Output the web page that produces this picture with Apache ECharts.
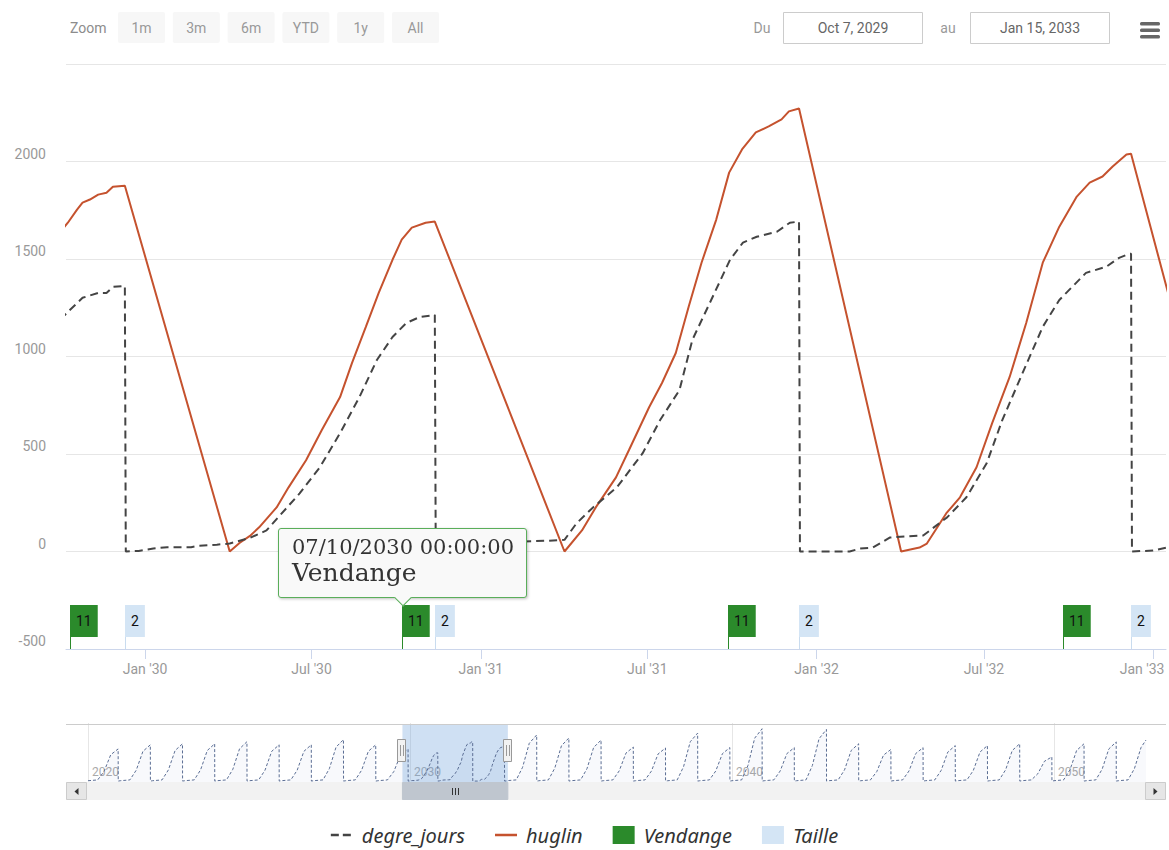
<!DOCTYPE html>
<html><head><meta charset="utf-8"><title>degre_jours / huglin</title>
<script src="https://cdn.jsdelivr.net/npm/echarts@6.0.0/dist/echarts.min.js"></script>
<style>html,body{margin:0;padding:0;background:#fff;}#chart{width:1169px;height:850px;}</style>
</head><body><div id="chart"></div>
<script>
// ---------------- data ----------------
const viewRange = ['2029-10-07', '2033-01-15'];
const xTicks = ['2030-01-01','2030-07-01','2031-01-01','2031-07-01','2032-01-01','2032-07-01','2033-01-01'];
const navTicks = ['2020-01-01','2030-01-01','2040-01-01','2050-01-01'];
const rangeButtons = ['1m','3m','6m','YTD','1y','All'];
const monthNames = ['Jan','Feb','Mar','Apr','May','Jun','Jul','Aug','Sep','Oct','Nov','Dec'];

const degreDates = ['2029-10-01','2029-10-09','2029-10-25','2029-11-11','2029-11-20','2029-11-27','2029-12-10','2029-12-11','2029-12-25',
  '2030-01-10','2030-01-25','2030-02-20','2030-03-01','2030-03-20','2030-04-03','2030-04-25','2030-05-13','2030-06-18','2030-07-10',
  '2030-08-01','2030-08-22','2030-09-10','2030-09-27','2030-10-12','2030-10-27','2030-11-12','2030-11-13','2030-12-01',
  '2031-01-01','2031-02-01','2031-03-15','2031-04-02','2031-04-15','2031-05-03','2031-05-29','2031-06-26','2031-07-15','2031-08-05',
  '2031-08-19','2031-09-07','2031-09-29','2031-10-13','2031-10-28','2031-11-19','2031-12-03','2031-12-13','2031-12-14',
  '2032-02-06','2032-02-17','2032-03-02','2032-03-21','2032-04-26','2032-05-22','2032-06-12','2032-07-04','2032-07-21','2032-08-12',
  '2032-09-03','2032-09-21','2032-10-05','2032-10-20','2032-11-11','2032-11-25','2032-12-06','2032-12-08','2032-12-09',
  '2033-01-01','2033-01-16','2033-01-25'];
const degreValues = [1190,1229,1301,1326,1326,1357,1362,0,3,
  15,22,22,30,35,41,70,108,298,432,
  607,792,982,1100,1172,1203,1213,0,10,
  40,50,55,60,144,226,329,504,674,828,
  1085,1275,1496,1584,1614,1640,1686,1692,0,
  0,15,20,72,82,175,278,452,674,915,
  1152,1290,1357,1429,1460,1506,1527,1527,0,
  5,20,25];

const huglinDates = ['2029-10-01','2029-10-09','2029-10-19','2029-10-25','2029-11-02','2029-11-11','2029-11-20','2029-11-27','2029-12-10',
  '2030-04-03','2030-04-14','2030-04-25','2030-05-05','2030-05-24','2030-06-06','2030-06-25','2030-07-12','2030-08-01','2030-08-14',
  '2030-08-29','2030-09-12','2030-09-27','2030-10-07','2030-10-18','2030-11-02','2030-11-12',
  '2031-04-02','2031-04-21','2031-05-06','2031-05-28','2031-06-11','2031-07-03','2031-07-17','2031-08-01','2031-08-15','2031-08-29',
  '2031-09-14','2031-09-28','2031-10-12','2031-10-27','2031-11-10','2031-11-24','2031-12-02','2031-12-13',
  '2032-04-02','2032-04-22','2032-04-30','2032-05-21','2032-06-05','2032-06-23','2032-07-10','2032-07-29','2032-08-16','2032-09-03',
  '2032-09-21','2032-10-10','2032-10-24','2032-11-07','2032-11-18','2032-12-03','2032-12-08','2033-04-02'];
const huglinValues = [1640,1686,1753,1789,1805,1830,1840,1871,1876,
  0,45,80,124,226,329,468,622,792,967,
  1152,1326,1496,1599,1661,1686,1692,
  0,108,226,380,519,740,864,1018,1255,1481,
  1702,1943,2062,2149,2180,2216,2257,2272,
  0,20,41,195,278,432,658,895,1172,1481,
  1666,1820,1892,1923,1974,2036,2040,0];

const vendangeDates = ['2029-10-11','2030-10-07','2031-09-27','2032-09-25'];
const vendangeTitles = ['11','11','11','11'];
const tailleDates = ['2029-12-10','2030-11-12','2031-12-13','2032-12-08'];
const tailleTitles = ['2','2','2','2'];

// navigator: whole record of degre_jours, read coarsely (Jul 1, Sep 15, peak at pruning) outside the detailed window
const navYears = [2020,2021,2022,2023,2024,2025,2026,2027,2028,2029,2030,2031,2032,2033,2034,2035,2036,
  2037,2038,2039,2040,2041,2042,2043,2044,2045,2046,2047,2048,2049,2050,2051,2052];
const navJul  = [414,467,480,480,507,467,467,534,467,408,364,508,458,594,555,528,438,
  426,618,431,674,431,665,481,407,431,457,457,481,311,481,505,529];
const navSep  = [1132,1277,1312,1312,1386,1277,1277,1460,1277,1117,995,1387,1252,1624,1517,1443,1197,
  1164,1689,1178,1843,1178,1817,1314,1113,1178,1248,1248,1314,850,1314,1379,1445];
const navPeaks = [1380,1557,1600,1600,1690,1557,1557,1780,1557,1362,1213,1692,1527,1980,1850,1760,1460,
  1420,2060,1437,2247,1437,2216,1602,1357,1437,1522,1522,1602,1037,1602,1682,1762];
const navWinterLow = 15, navSpringLow = 50;
const navEndDate = '2052-11-10';

// ---------------- helpers ----------------
const FONT = "Roboto, 'Open Sans', sans-serif";
const ms = s => echarts.time.parse(s).getTime();
const Y_MIN = -500;
const pair = (d, v) => d.map((x, i) => [ms(x), v[i]]);
function fmtTick(v) {
  const d = new Date(v);
  return monthNames[d.getMonth()] + " '" + String(d.getFullYear()).slice(2);
}
function fmtInput(s) {
  const d = new Date(ms(s));
  return monthNames[d.getMonth()] + ' ' + d.getDate() + ', ' + d.getFullYear();
}

const degreData = pair(degreDates, degreValues);
const huglinData = pair(huglinDates, huglinValues);

const detStart = degreData[0][0], detEnd = degreData[degreData.length - 1][0];
let navData = [];
navYears.forEach((y, i) => {
  const last = i === navYears.length - 1;
  const pts = [[y + '-01-01', navWinterLow], [y + '-04-20', navSpringLow], [y + '-07-01', navJul[i]], [y + '-09-15', navSep[i]]];
  if (last) pts.push([navEndDate, navPeaks[i]]);
  else { pts.push([y + '-12-08', navPeaks[i]]); pts.push([y + '-12-09', 0]); }
  pts.forEach(p => { const t = ms(p[0]); if (t < detStart || t > detEnd) navData.push([t, p[1]]); });
});
degreData.forEach(p => navData.push([p[0], p[1]]));
navData.sort((a, b) => a[0] - b[0]);

function flagRender(titles, fill, stem) {
  return function (params, api) {
    const p = api.coord([api.value(0), api.value(1)]);
    const x = Math.round(p[0]) + 0.5, y = p[1];
    return {
      type: 'group',
      children: [
        { type: 'line', shape: { x1: x, y1: y, x2: x, y2: y - 12 }, style: { stroke: stem, lineWidth: 1 } },
        { type: 'text', x: x - 0.5, y: y - 12,
          style: { text: titles[params.dataIndex], fill: '#111', font: '14px ' + FONT, align: 'left',
                   verticalAlign: 'bottom', backgroundColor: fill, padding: [8, 6, 8, 6], lineHeight: 16 } }
      ]
    };
  };
}

// legend icons (line / dashed line drawn as thin filled shapes inside a 22x18 box)
const ICON_BOX = 'M0,0h.01v.01h-.01zM21.99,17.99h.01v.01h-.01z';
const iconDash = 'path://' + ICON_BOX + 'M0,7.75h8v2.5h-8zM12,7.75h8v2.5h-8z';
const iconLine = 'path://' + ICON_BOX + 'M0,7.75h22v2.5h-22z';

// ---------------- chart ----------------
const chart = echarts.init(document.getElementById('chart'), null, { renderer: 'svg' });
const xTickVals = xTicks.map(ms);
const navTickVals = navTicks.map(ms);
const option = {
  animation: false,
  textStyle: { fontFamily: FONT },
  grid: [
    { left: 66, right: 3, top: 64, height: 585 },
    { left: 88, right: 23, top: 724, height: 58 }
  ],
  xAxis: [
    { type: 'value', gridIndex: 0, min: ms(viewRange[0]), max: ms(viewRange[1]), scale: true,
      axisLine: { show: true, onZero: false, lineStyle: { color: '#ccd6eb', width: 1 } },
      axisTick: { show: true, customValues: xTickVals, length: 10, lineStyle: { color: '#ccd6eb' } },
      axisLabel: { customValues: xTickVals, color: '#999', fontSize: 14, margin: 13, fontFamily: FONT,
        showMinLabel: true, showMaxLabel: true,
        formatter: v => (v >= xTickVals[xTickVals.length - 1] ? '{e|' + fmtTick(v) + '}' : fmtTick(v)),
        rich: { e: { color: '#999', fontSize: 14, fontFamily: FONT, padding: [0, 22, 0, 0] } } },
      splitLine: { show: false } },
    { type: 'value', gridIndex: 1, min: navData[0][0], max: navData[navData.length - 1][0], scale: true,
      axisLine: { show: false },
      axisTick: { show: true, inside: true, length: 58, customValues: navTickVals, lineStyle: { color: '#e6e6e6' } },
      axisLabel: { show: true, inside: true, customValues: navTickVals, color: '#aaa', fontSize: 12, align: 'left',
        showMinLabel: true, padding: [0, 0, 0, 4], margin: 4, formatter: v => String(new Date(v).getFullYear()) },
      splitLine: { show: false } }
  ],
  yAxis: [
    { type: 'value', gridIndex: 0, min: Y_MIN, max: 2500, interval: 500,
      axisLine: { show: false }, axisTick: { show: false },
      axisLabel: { color: '#999', fontSize: 14, margin: 20, verticalAlign: 'bottom', padding: [0, 0, 1, 0],
        formatter: v => (v === 2500 ? '' : String(v)) },
      splitLine: { show: true, lineStyle: { color: '#e6e6e6', width: 1 } } },
    { type: 'value', gridIndex: 1, min: -40, max: 2450, show: false, splitLine: { show: false } }
  ],
  legend: {
    top: 820, left: 'center', itemGap: 30, itemWidth: 22, itemHeight: 18, selectedMode: false,
    textStyle: { fontFamily: "'Noto Sans', sans-serif", fontStyle: 'italic', fontSize: 20, color: '#333', padding: [0, 0, 0, 4] },
    data: [{ name: 'degre_jours', icon: iconDash }, { name: 'huglin', icon: iconLine },
           { name: 'Vendange', icon: 'rect' }, { name: 'Taille', icon: 'rect' }]
  },
  tooltip: {
    trigger: 'item', triggerOn: 'none', alwaysShowContent: true, showDelay: 0, hideDelay: 0, transitionDuration: 0,
    backgroundColor: '#f9f9f9', borderColor: '#5aae5a', borderWidth: 1.5, padding: [7, 12, 10, 13],
    extraCssText: 'box-shadow:1px 1px 3px rgba(0,0,0,0.25);border-radius:3px;',
    position: function (point, params, dom, rect, size) {
      const w = size.contentSize[0], h = size.contentSize[1];
      return [rect.x - w / 2, rect.y - h - 7];
    },
    formatter: function (p) {
      const t = echarts.time.format(p.value[0], '{dd}/{MM}/{yyyy} {HH}:{mm}:{ss}', false);
      return '<div style="font-family:\'DejaVu Serif\',serif;font-size:21px;line-height:23px;color:#333">' + t + '</div>' +
        '<div style="font-family:\'DejaVu Serif\',serif;font-size:25px;line-height:28px;color:#333">' + p.seriesName + '</div>' +
        '<div style="position:absolute;left:50%;bottom:-7px;margin-left:-6px;width:11px;height:11px;background:#f9f9f9;' +
        'border-right:1.5px solid #5aae5a;border-bottom:1.5px solid #5aae5a;transform:rotate(45deg)"></div>';
    }
  },
  series: [
    { name: 'degre_jours', type: 'line', xAxisIndex: 0, yAxisIndex: 0, data: degreData, symbol: 'none', silent: true,
      tooltip: { show: false }, color: '#444444', lineStyle: { color: '#444444', width: 2, type: [8, 5] }, z: 3 },
    { name: 'huglin', type: 'line', xAxisIndex: 0, yAxisIndex: 0, data: huglinData, symbol: 'none', silent: true,
      tooltip: { show: false }, color: '#c5522e', lineStyle: { color: '#c5522e', width: 2 }, z: 2 },
    { name: 'Vendange', type: 'custom', xAxisIndex: 0, yAxisIndex: 0, encode: { x: 0, y: 1 },
      data: vendangeDates.map(d => [ms(d), Y_MIN]), itemStyle: { color: '#2b8a2b' },
      renderItem: flagRender(vendangeTitles, '#2b8a2b', '#2b8a2b'), z: 4 },
    { name: 'Taille', type: 'custom', xAxisIndex: 0, yAxisIndex: 0, encode: { x: 0, y: 1 },
      data: tailleDates.map(d => [ms(d), Y_MIN]), itemStyle: { color: '#d4e5f5' },
      renderItem: flagRender(tailleTitles, '#d4e5f5', '#c9dcef'), z: 4 },
    { name: 'nav', type: 'line', xAxisIndex: 1, yAxisIndex: 1, data: navData, symbol: 'none', silent: true,
      tooltip: { show: false }, lineStyle: { color: '#5b6e94', width: 1, type: [3, 2] },
      areaStyle: { color: 'rgba(51,92,173,0.05)', origin: 'start' },
      markArea: { silent: true, itemStyle: { color: 'rgba(110,160,220,0.33)' },
        data: [[{ xAxis: ms(viewRange[0]) }, { xAxis: ms(viewRange[1]) }]] } }
  ]
};
chart.setOption(option);

// ---------------- toolbar, navigator handles, scrollbar ----------------
const xs = chart.convertToPixel({ xAxisIndex: 1 }, ms(viewRange[0]));
const xe = chart.convertToPixel({ xAxisIndex: 1 }, ms(viewRange[1]));
const els = [];
const txt = (x, y, text, opt) => ({ type: 'text', x: x, y: y, z: 11, silent: true,
  style: Object.assign({ text: text, fill: '#999', font: '14px ' + FONT, align: 'center', verticalAlign: 'middle' }, opt || {}) });
els.push(txt(70, 28, 'Zoom', { align: 'left', fill: '#8c8c8c' }));
rangeButtons.forEach((b, i) => {
  const bx = 118 + i * 54.8;
  els.push({ type: 'rect', z: 10, silent: true, shape: { x: bx, y: 12, width: 47, height: 31, r: 2 }, style: { fill: '#f7f7f7' } });
  els.push(txt(bx + 23.5, 28, b));
});
els.push(txt(762, 28, 'Du'));
els.push({ type: 'rect', z: 10, silent: true, shape: { x: 783.5, y: 12.5, width: 139, height: 31 }, style: { fill: '#fff', stroke: '#ccc', lineWidth: 1 } });
els.push(txt(853, 28, fmtInput(viewRange[0]), { fill: '#666' }));
els.push(txt(948, 28, 'au'));
els.push({ type: 'rect', z: 10, silent: true, shape: { x: 970.5, y: 12.5, width: 139, height: 31 }, style: { fill: '#fff', stroke: '#ccc', lineWidth: 1 } });
els.push(txt(1040, 28, fmtInput(viewRange[1]), { fill: '#666' }));
[22, 28.5, 35].forEach(y => els.push({ type: 'rect', z: 10, silent: true, shape: { x: 1140, y: y, width: 20, height: 3.5, r: 1.5 }, style: { fill: '#666' } }));
els.push({ type: 'line', z: 10, silent: true, shape: { x1: 66, y1: 724.5, x2: 1166, y2: 724.5 }, style: { stroke: '#ccc', lineWidth: 1 } });
els.push({ type: 'rect', z: 10, silent: true, shape: { x: 66, y: 782, width: 1100, height: 18 }, style: { fill: '#f2f2f2' } });
els.push({ type: 'rect', z: 11, silent: true, shape: { x: 66.5, y: 782.5, width: 20, height: 17 }, style: { fill: '#e6e6e6', stroke: '#ccc' } });
els.push({ type: 'polygon', z: 12, silent: true, shape: { points: [[78.5, 788], [78.5, 795], [74.5, 791.5]] }, style: { fill: '#333' } });
els.push({ type: 'rect', z: 11, silent: true, shape: { x: 1145.5, y: 782.5, width: 20, height: 17 }, style: { fill: '#e6e6e6', stroke: '#ccc' } });
els.push({ type: 'polygon', z: 12, silent: true, shape: { points: [[1153.5, 788], [1153.5, 795], [1157.5, 791.5]] }, style: { fill: '#333' } });
els.push({ type: 'rect', z: 11, silent: true, shape: { x: xs, y: 782.5, width: xe - xs, height: 17 }, style: { fill: '#bfc6cf', stroke: '#bfc6cf' } });
const cx = Math.round((xs + xe) / 2);
[-3, 0, 3].forEach(d => els.push({ type: 'line', z: 12, silent: true, shape: { x1: cx + d + 0.5, y1: 788, x2: cx + d + 0.5, y2: 795 }, style: { stroke: '#333', lineWidth: 1 } }));
[xs, xe].forEach(hx => {
  const h = Math.round(hx);
  els.push({ type: 'rect', z: 12, silent: true, shape: { x: h - 4.5, y: 739.5, width: 8, height: 22 }, style: { fill: '#f2f2f2', stroke: '#999', lineWidth: 1 } });
  els.push({ type: 'line', z: 13, silent: true, shape: { x1: h - 1.5, y1: 745, x2: h - 1.5, y2: 756 }, style: { stroke: '#999', lineWidth: 1 } });
  els.push({ type: 'line', z: 13, silent: true, shape: { x1: h + 1.5, y1: 745, x2: h + 1.5, y2: 756 }, style: { stroke: '#999', lineWidth: 1 } });
});
chart.setOption({ graphic: { elements: els } });

chart.dispatchAction({ type: 'showTip', seriesIndex: 2, dataIndex: 1 });
</script>
</body></html>
